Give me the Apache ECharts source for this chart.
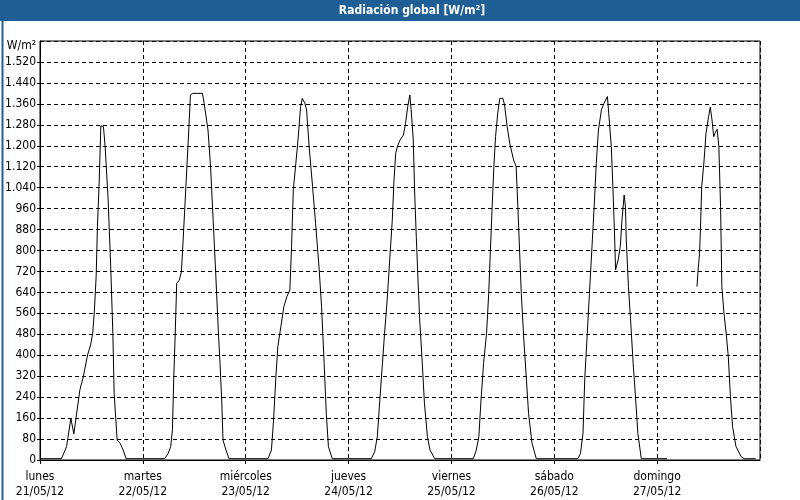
<!DOCTYPE html>
<html><head><meta charset="utf-8">
<script src="https://cdn.jsdelivr.net/npm/echarts@6/dist/echarts.min.js"></script>
<style>html,body{margin:0;padding:0;background:#fff}#c{width:800px;height:500px}</style>
</head><body><div id="c"></div>
<script>
// Day labels
const dayNames = ['lunes', 'martes', 'miércoles', 'jueves', 'viernes', 'sábado', 'domingo'];
const dayDates = ['21/05/12', '22/05/12', '23/05/12', '24/05/12', '25/05/12', '26/05/12', '27/05/12'];

// Hour of day and global radiation (W/m²) for each day
const lunesH = [0, 5.0, 6.2, 6.5, 7.2, 7.9, 9.3, 10.1, 11.1, 11.8, 12.3, 12.7, 13.1, 13.4, 13.8, 14.2, 14.8, 15.2, 15.9, 16.5, 17.0, 17.3, 17.7, 18.0, 18.7, 19.4, 20.1];
const lunesV = [5, 5, 51, 83, 159, 100, 267, 318, 401, 439, 484, 573, 700, 891, 1057, 1276, 1273, 1197, 993, 738, 484, 255, 153, 76, 64, 38, 5];

const martesH = [0, 5.1, 5.9, 6.5, 6.9, 7.2, 7.5, 7.9, 8.5, 9.0, 9.4, 10.0, 10.6, 11.1, 11.6, 13.9, 14.3, 15.2, 15.8, 16.4, 17.0, 17.6, 18.0, 18.4, 18.7, 19.4, 20.1];
const martesV = [5, 5, 25, 51, 115, 306, 458, 675, 687, 719, 840, 1031, 1222, 1394, 1400, 1400, 1362, 1260, 1120, 917, 713, 496, 369, 229, 76, 38, 5];

const miercolesH = [0, 5.2, 6.0, 6.5, 7.0, 7.5, 8.2, 8.9, 9.6, 10.3, 10.7, 11.1, 11.7, 12.2, 12.8, 13.2, 13.8, 14.2, 14.8, 15.6, 16.3, 17.1, 17.7, 18.3, 18.8, 19.3, 20.2];
const miercolesV = [5, 5, 38, 153, 306, 433, 509, 585, 624, 649, 815, 1031, 1133, 1222, 1349, 1381, 1362, 1337, 1197, 1044, 904, 738, 585, 369, 178, 51, 5];

const juevesH = [0, 5.3, 6.1, 6.7, 7.3, 7.9, 8.4, 9.0, 9.6, 10.2, 10.6, 11.0, 11.4, 12.0, 12.8, 13.3, 13.8, 14.3, 14.6, 15.1, 15.4, 15.8, 16.2, 16.6, 17.2, 17.7, 18.4, 19.0, 20.1];
const juevesV = [5, 5, 32, 89, 229, 369, 484, 611, 764, 917, 1069, 1171, 1197, 1222, 1241, 1286, 1349, 1394, 1337, 1222, 1031, 853, 687, 535, 369, 217, 89, 38, 5];

const viernesH = [0, 5.1, 5.8, 6.4, 6.9, 7.5, 8.2, 8.7, 9.1, 9.5, 9.9, 10.3, 10.8, 11.3, 12.0, 12.4, 13.0, 13.6, 14.5, 15.1, 15.5, 15.9, 16.3, 16.9, 17.5, 18.0, 18.8, 19.8];
const viernesV = [5, 5, 38, 89, 229, 369, 484, 636, 802, 967, 1120, 1235, 1324, 1381, 1381, 1356, 1273, 1210, 1146, 1120, 967, 802, 636, 458, 306, 178, 64, 5];

const sabadoH = [0, 5.5, 6.1, 6.7, 7.1, 7.7, 8.2, 8.8, 9.3, 9.8, 10.3, 11.0, 11.6, 12.4, 12.7, 13.3, 13.7, 14.1, 14.3, 14.9, 15.4, 15.8, 16.3, 16.6, 16.8, 17.3, 17.8, 18.4, 19.0, 19.5, 20.3];
const sabadoV = [5, 5, 25, 102, 306, 484, 636, 815, 967, 1133, 1260, 1337, 1362, 1388, 1324, 1197, 1031, 840, 726, 764, 815, 917, 1012, 967, 840, 662, 535, 369, 229, 102, 5];

const domingoH = [0, 2.3, 2.4, 9.3, 9.5, 9.9, 10.1, 10.4, 10.9, 11.4, 12.0, 12.4, 12.8, 13.2, 13.5, 14.0, 14.4, 14.8, 15.1, 15.6, 16.1, 16.6, 17.1, 17.6, 18.4, 19.6, 20.3, 23.0];
const domingoV = [5, 5, null, 662, 713, 789, 878, 1044, 1133, 1248, 1311, 1347, 1299, 1235, 1248, 1263, 1197, 967, 662, 560, 484, 395, 242, 127, 51, 13, 5, 5];

const days = [[lunesH, lunesV], [martesH, martesV], [miercolesH, miercolesV], [juevesH, juevesV], [viernesH, viernesV], [sabadoH, sabadoV], [domingoH, domingoV]];
const seriesData = [];
days.forEach(function (d, di) {
  d[0].forEach(function (h, i) {
    const v = d[1][i];
    seriesData.push([di * 24 + h, v === null ? '-' : v]);
  });
});

const FONT = "'Liberation Sans Narrow', 'DejaVu Sans Condensed', 'Liberation Sans', sans-serif";
const BLUE = '#1f5f96';

function fmtThousands(v) {
  const s = String(v);
  return s.length > 3 ? s.slice(0, s.length - 3) + '.' + s.slice(-3) : s;
}

const chart = echarts.init(document.getElementById('c'), null, { renderer: 'canvas' });
chart.setOption({
  animation: false,
  backgroundColor: '#ffffff',
  grid: { left: 40, right: 40, top: 41, bottom: 40, show: true, borderColor: '#000', borderWidth: 1, backgroundColor: 'transparent' },
  graphic: [
    { type: 'rect', left: 0, top: 0, shape: { width: 800, height: 21 }, style: { fill: BLUE }, z: 10 },
    { type: 'rect', left: 0, top: 0, shape: { width: 799, height: 499 }, style: { fill: 'none', stroke: BLUE, lineWidth: 2 }, z: 10 },
    { type: 'text', x: 412, y: 11, style: { text: 'Radiación global [W/m²]', fill: '#fff', font: "bold 12px " + FONT, textAlign: 'center', textVerticalAlign: 'middle' }, z: 11 },
    { type: 'text', x: 36, y: 46, style: { text: 'W/m²', fill: '#000', font: "12px " + FONT, textAlign: 'right', textVerticalAlign: 'middle' }, z: 11 }
  ],
  xAxis: {
    type: 'value', min: 0, max: 168, interval: 24,
    axisLine: { show: true, lineStyle: { color: '#000', width: 1 } },
    axisTick: { show: true, length: 4, lineStyle: { color: '#000' } },
    splitLine: { show: true, lineStyle: { color: '#000', type: [4, 3], width: 1 } },
    axisLabel: {
      showMaxLabel: false, margin: 9, color: '#000', fontFamily: FONT, fontSize: 12, lineHeight: 15,
      formatter: function (v) { const i = Math.round(v / 24); return i < 7 ? dayNames[i] + '\n' + dayDates[i] : ''; }
    }
  },
  yAxis: {
    type: 'value', min: 0, max: 1600, interval: 80,
    axisLine: { show: true, lineStyle: { color: '#000', width: 1 } },
    axisTick: { show: true, length: 3, lineStyle: { color: '#000' } },
    splitLine: { show: true, lineStyle: { color: '#000', type: [4, 3], width: 1 } },
    axisLabel: {
      showMaxLabel: false, margin: 4, color: '#000', fontFamily: FONT, fontSize: 12,
      formatter: function (v) { return v >= 1600 ? '' : fmtThousands(v); }
    }
  },
  series: [{
    type: 'line', data: seriesData, showSymbol: false, connectNulls: false,
    lineStyle: { color: '#000', width: 1 }, z: 5
  }]
});
</script>
</body></html>
